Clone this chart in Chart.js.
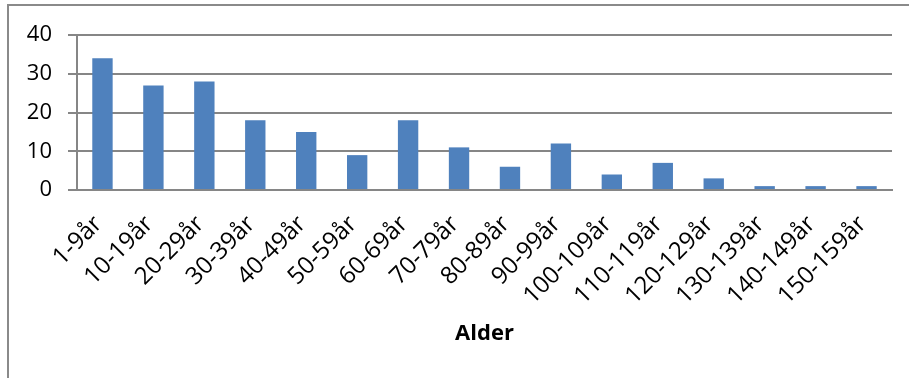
<!DOCTYPE html>
<html>
<head>
<meta charset="utf-8">
<script src="https://cdn.jsdelivr.net/npm/chart.js@4"></script>
<style>
  html, body { margin: 0; padding: 0; background: #fff; }
  #wrap { position: relative; width: 909px; height: 378px; overflow: hidden; }
  #frame {
    position: absolute; left: 7px; top: 4px; width: 920px; height: 400px;
    border-left: 2px solid #8a8a8a; border-top: 2px solid #8a8a8a;
    box-sizing: border-box;
  }
  canvas { position: absolute; left: 0; top: 0; }
</style>
</head>
<body>
<div id="wrap">
  <div id="frame"></div>
  <canvas id="c" width="909" height="378"></canvas>
</div>
<script>
// Number of people per age group
const ageGroups = ['1-9år', '10-19år', '20-29år', '30-39år', '40-49år', '50-59år', '60-69år',
  '70-79år', '80-89år', '90-99år', '100-109år', '110-119år', '120-129år', '130-139år',
  '140-149år', '150-159år'];
const counts = [34, 27, 28, 18, 15, 9, 18, 11, 6, 12, 4, 7, 3, 1, 1, 1];
const yTicks = [0, 10, 20, 30, 40];
const xTitle = 'Alder';

const axisGrey = '#868686';
const family = '"Open Sans", "DejaVu Sans", sans-serif';

new Chart(document.getElementById('c'), {
  type: 'bar',
  data: {
    labels: ageGroups,
    datasets: [{
      data: counts,
      backgroundColor: '#4f81bd',
      borderWidth: 0,
      categoryPercentage: 0.4,
      barPercentage: 1.0
    }]
  },
  options: {
    responsive: false,
    animation: false,
    layout: { padding: { left: 0, right: 17, top: 35, bottom: 31 } },
    plugins: { legend: { display: false }, tooltip: { enabled: false } },
    scales: {
      x: {
        grid: { display: false, drawTicks: false },
        border: { display: true, color: axisGrey, width: 2 },
        ticks: { color: '#000', font: { family, size: 24 }, maxRotation: 45, minRotation: 45,
                 padding: 20, labelOffset: -4, autoSkip: false },
        title: { display: true, text: xTitle, color: '#000',
                 font: { family, size: 22, weight: 'bold' }, padding: { top: 0, bottom: 0 } },
        afterFit: (s) => { s.height = 157; }
      },
      y: {
        min: 0, max: 40,
        afterBuildTicks: (s) => { s.ticks = yTicks.map(v => ({ value: v })); },
        grid: { color: axisGrey, lineWidth: 2, tickLength: 9, drawTicks: true, tickColor: axisGrey },
        border: { display: true, color: axisGrey, width: 2 },
        ticks: { color: '#000', font: { family, size: 22 }, padding: 16 },
        afterFit: (s) => { s.width = 77; }
      }
    }
  }
});
</script>
</body>
</html>
